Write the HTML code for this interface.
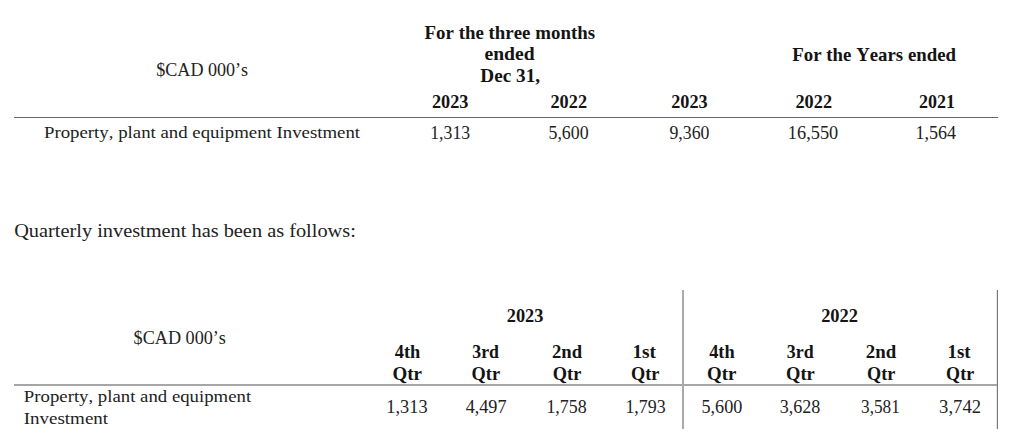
<!DOCTYPE html>
<html><head><meta charset="utf-8"><style>
html,body{margin:0;padding:0;background:#fff;width:1024px;height:442px;overflow:hidden}
svg{display:block}
text{font-family:"Liberation Serif",serif;white-space:pre;font-kerning:none}
.r{font-size:18.0px;fill:#222}
.b{font-size:18.75px;font-weight:bold;fill:#141414;stroke:none;stroke-width:0px}
</style></head><body>
<svg width="1024" height="442" viewBox="0 0 1024 442">
<rect x="0" y="0" width="1024" height="442" fill="#fff"/>
<rect x="996" y="290" width="1" height="139" fill="#e4e4e4"/>
<rect x="14" y="117" width="984" height="1" fill="#666"/>
<rect x="14" y="384" width="983" height="2" fill="#a6a6a6"/>
<rect x="682" y="290" width="2" height="139" fill="#aaa"/>
<rect x="997" y="290" width="1" height="139" fill="#7a7a7a"/>
<text class="r" style="font-size:18.0px" x="156.22" y="75.60" textLength="91.93" lengthAdjust="spacingAndGlyphs">$CAD 000’s</text>
<text class="b" style="font-size:18.3px" x="424.58" y="38.75" textLength="170.48" lengthAdjust="spacingAndGlyphs">For the three months</text>
<text class="b" style="font-size:18.3px" x="484.53" y="60.30" textLength="50.09" lengthAdjust="spacingAndGlyphs">ended</text>
<text class="b" style="font-size:18.75px" x="480.36" y="82.00" textLength="59.67" lengthAdjust="spacingAndGlyphs">Dec 31,</text>
<text class="b" style="font-size:18.3px" x="792.38" y="60.50" textLength="163.63" lengthAdjust="spacingAndGlyphs">For the Years ended</text>
<text class="b" style="font-size:18.75px" x="431.93" y="108.40" textLength="36.59" lengthAdjust="spacingAndGlyphs">2023</text>
<text class="b" style="font-size:18.75px" x="550.48" y="108.40" textLength="36.55" lengthAdjust="spacingAndGlyphs">2022</text>
<text class="b" style="font-size:18.75px" x="671.24" y="108.40" textLength="36.39" lengthAdjust="spacingAndGlyphs">2023</text>
<text class="b" style="font-size:18.75px" x="795.48" y="108.40" textLength="36.55" lengthAdjust="spacingAndGlyphs">2022</text>
<text class="b" style="font-size:18.75px" x="918.94" y="108.40" textLength="35.99" lengthAdjust="spacingAndGlyphs">2021</text>
<text class="r" style="font-size:17.6px" x="43.96" y="138.40" textLength="316.15" lengthAdjust="spacingAndGlyphs">Property, plant and equipment Investment</text>
<text class="r" style="font-size:18.0px" x="430.24" y="138.50" textLength="39.95" lengthAdjust="spacingAndGlyphs">1,313</text>
<text class="r" style="font-size:18.0px" x="548.46" y="138.50" textLength="40.22" lengthAdjust="spacingAndGlyphs">5,600</text>
<text class="r" style="font-size:18.0px" x="669.43" y="138.50" textLength="40.00" lengthAdjust="spacingAndGlyphs">9,360</text>
<text class="r" style="font-size:18.0px" x="787.89" y="138.50" textLength="50.30" lengthAdjust="spacingAndGlyphs">16,550</text>
<text class="r" style="font-size:18.0px" x="915.41" y="138.50" textLength="40.67" lengthAdjust="spacingAndGlyphs">1,564</text>
<text class="r" style="font-size:18.6px" x="14.17" y="236.90" textLength="341.68" lengthAdjust="spacingAndGlyphs">Quarterly investment has been as follows:</text>
<text class="b" style="font-size:18.75px" x="506.73" y="321.60" textLength="36.70" lengthAdjust="spacingAndGlyphs">2023</text>
<text class="b" style="font-size:18.75px" x="821.13" y="321.60" textLength="36.87" lengthAdjust="spacingAndGlyphs">2022</text>
<text class="r" style="font-size:18.0px" x="133.62" y="343.90" textLength="92.34" lengthAdjust="spacingAndGlyphs">$CAD 000’s</text>
<text class="b" style="font-size:18.75px" x="394.75" y="357.50" textLength="25.53" lengthAdjust="spacingAndGlyphs">4th</text>
<text class="b" style="font-size:18.75px" x="392.47" y="380.00" textLength="29.54" lengthAdjust="spacingAndGlyphs">Qtr</text>
<text class="b" style="font-size:18.75px" x="472.33" y="357.50" textLength="26.62" lengthAdjust="spacingAndGlyphs">3rd</text>
<text class="b" style="font-size:18.75px" x="471.61" y="380.00" textLength="28.49" lengthAdjust="spacingAndGlyphs">Qtr</text>
<text class="b" style="font-size:18.75px" x="552.02" y="357.50" textLength="30.09" lengthAdjust="spacingAndGlyphs">2nd</text>
<text class="b" style="font-size:18.75px" x="552.85" y="380.00" textLength="28.54" lengthAdjust="spacingAndGlyphs">Qtr</text>
<text class="b" style="font-size:18.75px" x="632.45" y="357.50" textLength="23.63" lengthAdjust="spacingAndGlyphs">1st</text>
<text class="b" style="font-size:18.75px" x="631.01" y="380.00" textLength="28.38" lengthAdjust="spacingAndGlyphs">Qtr</text>
<text class="b" style="font-size:18.75px" x="709.15" y="357.50" textLength="25.53" lengthAdjust="spacingAndGlyphs">4th</text>
<text class="b" style="font-size:18.75px" x="707.08" y="380.00" textLength="29.33" lengthAdjust="spacingAndGlyphs">Qtr</text>
<text class="b" style="font-size:18.75px" x="786.83" y="357.50" textLength="26.77" lengthAdjust="spacingAndGlyphs">3rd</text>
<text class="b" style="font-size:18.75px" x="786.00" y="380.00" textLength="28.80" lengthAdjust="spacingAndGlyphs">Qtr</text>
<text class="b" style="font-size:18.75px" x="865.81" y="357.50" textLength="30.40" lengthAdjust="spacingAndGlyphs">2nd</text>
<text class="b" style="font-size:18.75px" x="867.11" y="380.00" textLength="28.28" lengthAdjust="spacingAndGlyphs">Qtr</text>
<text class="b" style="font-size:18.75px" x="947.48" y="357.50" textLength="23.20" lengthAdjust="spacingAndGlyphs">1st</text>
<text class="b" style="font-size:18.75px" x="946.12" y="380.00" textLength="28.02" lengthAdjust="spacingAndGlyphs">Qtr</text>
<text class="r" style="font-size:17.6px" x="23.86" y="402.40" textLength="227.25" lengthAdjust="spacingAndGlyphs">Property, plant and equipment</text>
<text class="r" style="font-size:17.6px" x="23.71" y="423.80" textLength="84.40" lengthAdjust="spacingAndGlyphs">Investment</text>
<text class="r" style="font-size:18.0px" x="386.39" y="413.00" textLength="41.23" lengthAdjust="spacingAndGlyphs">1,313</text>
<text class="r" style="font-size:18.0px" x="465.65" y="413.00" textLength="40.88" lengthAdjust="spacingAndGlyphs">4,497</text>
<text class="r" style="font-size:18.0px" x="546.43" y="413.00" textLength="40.25" lengthAdjust="spacingAndGlyphs">1,758</text>
<text class="r" style="font-size:18.0px" x="625.43" y="413.00" textLength="40.27" lengthAdjust="spacingAndGlyphs">1,793</text>
<text class="r" style="font-size:18.0px" x="701.45" y="413.00" textLength="40.85" lengthAdjust="spacingAndGlyphs">5,600</text>
<text class="r" style="font-size:18.0px" x="779.74" y="413.00" textLength="40.65" lengthAdjust="spacingAndGlyphs">3,628</text>
<text class="r" style="font-size:18.0px" x="861.08" y="413.00" textLength="38.71" lengthAdjust="spacingAndGlyphs">3,581</text>
<text class="r" style="font-size:18.0px" x="939.11" y="413.00" textLength="41.92" lengthAdjust="spacingAndGlyphs">3,742</text>
</svg>
</body></html>
